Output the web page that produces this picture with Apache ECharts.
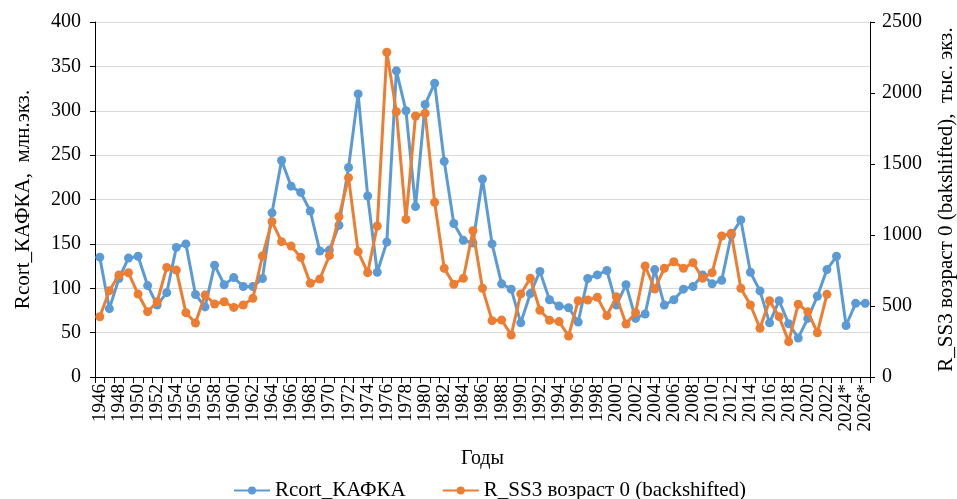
<!DOCTYPE html>
<html>
<head>
<meta charset="utf-8">
<script src="https://cdn.jsdelivr.net/npm/echarts@6/dist/echarts.min.js"></script>
<style>
  html, body { margin: 0; padding: 0; background: #fff; }
  #main { width: 957px; height: 499px; }
</style>
</head>
<body>
<div id="main"></div>
<script>
// годы 1946–2026 (последние — прогноз)
const years = []
for (let y = 1946; y <= 2026; y++) {
  years.push(y >= 2024 ? y + '*' : String(y))
}

// Rcort_КАФКА, млн экз. (левая ось)
const kafka = [
  135, 77, 111, 134, 136, 103, 81, 95, 146, 150,
  93, 79, 126, 104, 112, 102, 102, 111, 185, 244,
  215, 208, 187, 142, 143, 171, 236, 319, 204, 118,
  152, 345, 300, 192, 307, 331, 243, 173, 154, 151,
  223, 150, 105, 99, 61, 94, 119, 87, 80, 78,
  62, 111, 115, 120, 81, 104, 66, 71, 121, 81,
  87, 99, 102, 115, 105, 109, 160, 177, 118, 97,
  61, 86, 60, 44, 66, 91, 121, 136, 58, 83,
  83
]

// R_SS3 возраст 0 (backshifted), тыс. экз. (правая ось)
const ss3 = [
  424, 608, 718, 734, 584, 460, 530, 772, 753, 453,
  380, 577, 514, 530, 490, 507, 554, 852, 1094, 953,
  922, 843, 660, 690, 856, 1129, 1404, 883, 735, 1063,
  2287, 1868, 1110, 1838, 1857, 1230, 765, 653, 695, 1030,
  625, 397, 401, 296, 585, 695, 470, 400, 390, 289,
  537, 542, 561, 432, 566, 373, 453, 782, 620, 765,
  812, 765, 805, 695, 735, 993, 1012, 625, 507, 343,
  537, 425, 249, 512, 460, 312, 582
]

const font = 'Liberation Serif'
const chart = echarts.init(document.getElementById('main'))

chart.setOption({
  textStyle: { fontFamily: font, color: '#000' },
  grid: { left: 95, right: 87, top: 22, bottom: 122, outerBoundsMode: 'none' },
  legend: {
    left: 228,
    top: 475,
    itemWidth: 36,
    itemHeight: 10,
    itemGap: 36,
    textStyle: { fontFamily: font, fontSize: 21, color: '#000' },
    data: ['Rcort_КАФКА', 'R_SS3 возраст 0 (backshifted)']
  },
  xAxis: {
    type: 'category',
    data: years,
    boundaryGap: true,
    name: 'Годы',
    nameLocation: 'middle',
    nameGap: 72,
    nameTextStyle: { fontFamily: font, fontSize: 20, color: '#000' },
    axisLine: { lineStyle: { color: '#000', width: 1 } },
    axisTick: { show: true, interval: 0, length: 6, lineStyle: { color: '#000' } },
    axisLabel: {
      interval: 0,
      rotate: 90,
      color: '#000',
      margin: 7,
      fontFamily: font,
      fontSize: 19,
      // подписи через год
      formatter: (v, i) => (i % 2 === 0 ? v : '')
    }
  },
  yAxis: [
    {
      type: 'value',
      min: 0,
      max: 400,
      interval: 50,
      name: 'Rcort_КАФКА,  млн.экз.',
      nameLocation: 'middle',
      nameGap: 61,
      nameRotate: 90,
      nameTextStyle: { fontFamily: font, fontSize: 21, color: '#000' },
      axisLine: { show: true, lineStyle: { color: '#000' } },
      axisTick: { show: true, length: 5, lineStyle: { color: '#000' } },
      axisLabel: { fontFamily: font, fontSize: 20, color: '#000', margin: 14 },
      splitLine: { lineStyle: { color: '#d9d9d9', width: 1 } }
    },
    {
      type: 'value',
      min: 0,
      max: 2500,
      interval: 500,
      name: 'R_SS3 возраст 0 (bakshifted),  тыс. экз.',
      nameLocation: 'middle',
      nameGap: 66,
      nameRotate: 90,
      nameTextStyle: { fontFamily: font, fontSize: 21, color: '#000' },
      axisLine: { show: true, lineStyle: { color: '#000' } },
      axisTick: { show: true, length: 5, lineStyle: { color: '#000' } },
      axisLabel: {
        fontFamily: font,
        fontSize: 20,
        color: '#000',
        margin: 12,
        formatter: v => String(v)
      },
      splitLine: { show: false }
    }
  ],
  series: [
    {
      name: 'Rcort_КАФКА',
      type: 'line',
      yAxisIndex: 0,
      data: kafka,
      color: '#5b9bd5',
      symbol: 'circle',
      symbolSize: 9,
      showAllSymbol: true,
      lineStyle: { width: 3 },
      z: 2
    },
    {
      name: 'R_SS3 возраст 0 (backshifted)',
      type: 'line',
      yAxisIndex: 1,
      data: ss3,
      color: '#ed7d31',
      symbol: 'circle',
      symbolSize: 9,
      showAllSymbol: true,
      lineStyle: { width: 3 },
      z: 3
    }
  ]
})
</script>
</body>
</html>
